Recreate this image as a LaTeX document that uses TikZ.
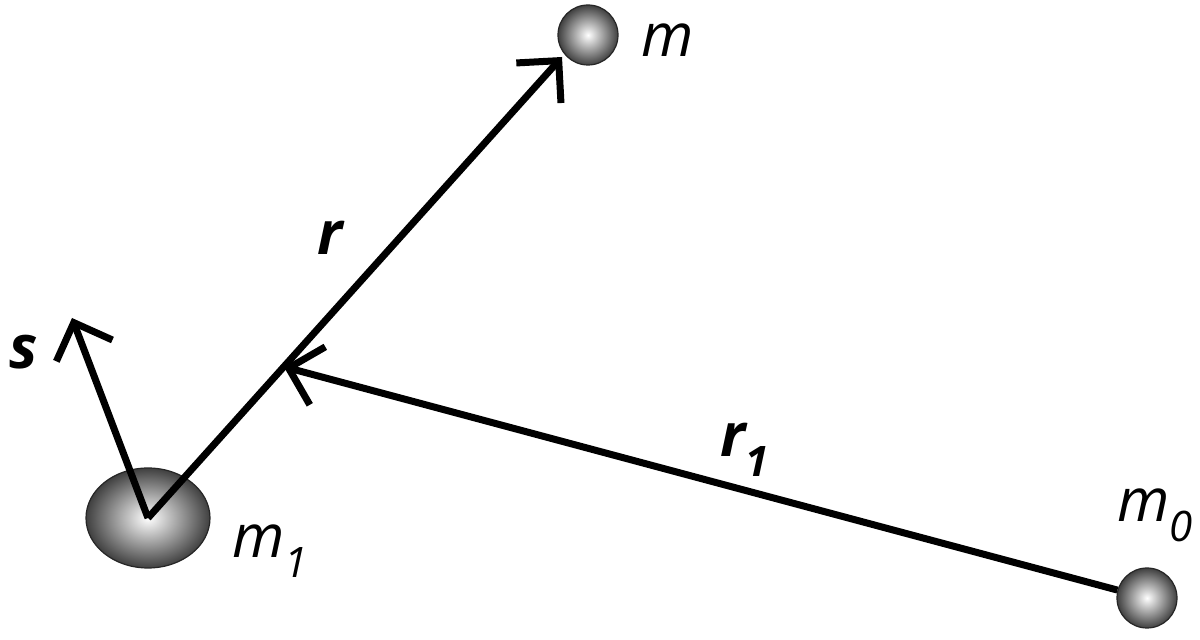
\documentclass[tikz,border=0pt]{standalone}
\usepackage{fontspec}
\setmainfont{Open Sans}
\usetikzlibrary{arrows.meta,shapes.geometric,calc}
\newcommand{\lowidx}[1]{\raisebox{-0.32em}{\fontsize{21}{21}\selectfont #1}}
\begin{document}
\begin{tikzpicture}[x=0.5pt, y=-0.5pt,
	mass/.style={circle, draw=gray!30!black, line width=0.6pt, inner color=white, outer color=gray!50!black, minimum size=30pt, inner sep=0pt},
	vec/.style={line width=3.5pt, -{Straight Barb[length=15pt, width=30pt, sharp]}},
	lbl/.style={font=\fontsize{30}{30}\selectfont\itshape, inner sep=0pt}]
	\useasboundingbox (0,0) rectangle (1200,640);
	% masses
	\node[mass] (m) at (588,35) {};
	\node[mass] (m0) at (1147,598) {};
	\node[mass, ellipse, minimum width=62pt, minimum height=50pt] (m1) at (148,518) {};
	% vector ends
	\coordinate (rtip) at (562,57);
	\coordinate (stip) at (72,318);
	\coordinate (rhit) at ($(m1.center)!0.328!(rtip)$);
	% vectors
	\draw[vec] (m1.center) -- (rtip);
	\draw[vec] (m1.center) -- (stip);
	\draw[vec] (m0) -- (rhit);
	% labels
	\node[lbl] (mlbl) at (668,40) {m};
	\node[lbl, anchor=base west] (m0lbl) at (1117,522) {m\lowidx{0}};
	\node[lbl, anchor=base west] (m1lbl) at (232,558) {m\lowidx{1}};
	\node[lbl, font=\fontsize{30}{30}\selectfont\itshape\bfseries] (rlbl) at (330,238) {r};
	\node[lbl, anchor=base west, font=\fontsize{30}{30}\selectfont\itshape\bfseries] (r1lbl) at (720,457) {r\lowidx{1}};
	\node[lbl, font=\fontsize{30}{30}\selectfont\itshape\bfseries] (slbl) at (24,352) {s};
\end{tikzpicture}
\end{document}
